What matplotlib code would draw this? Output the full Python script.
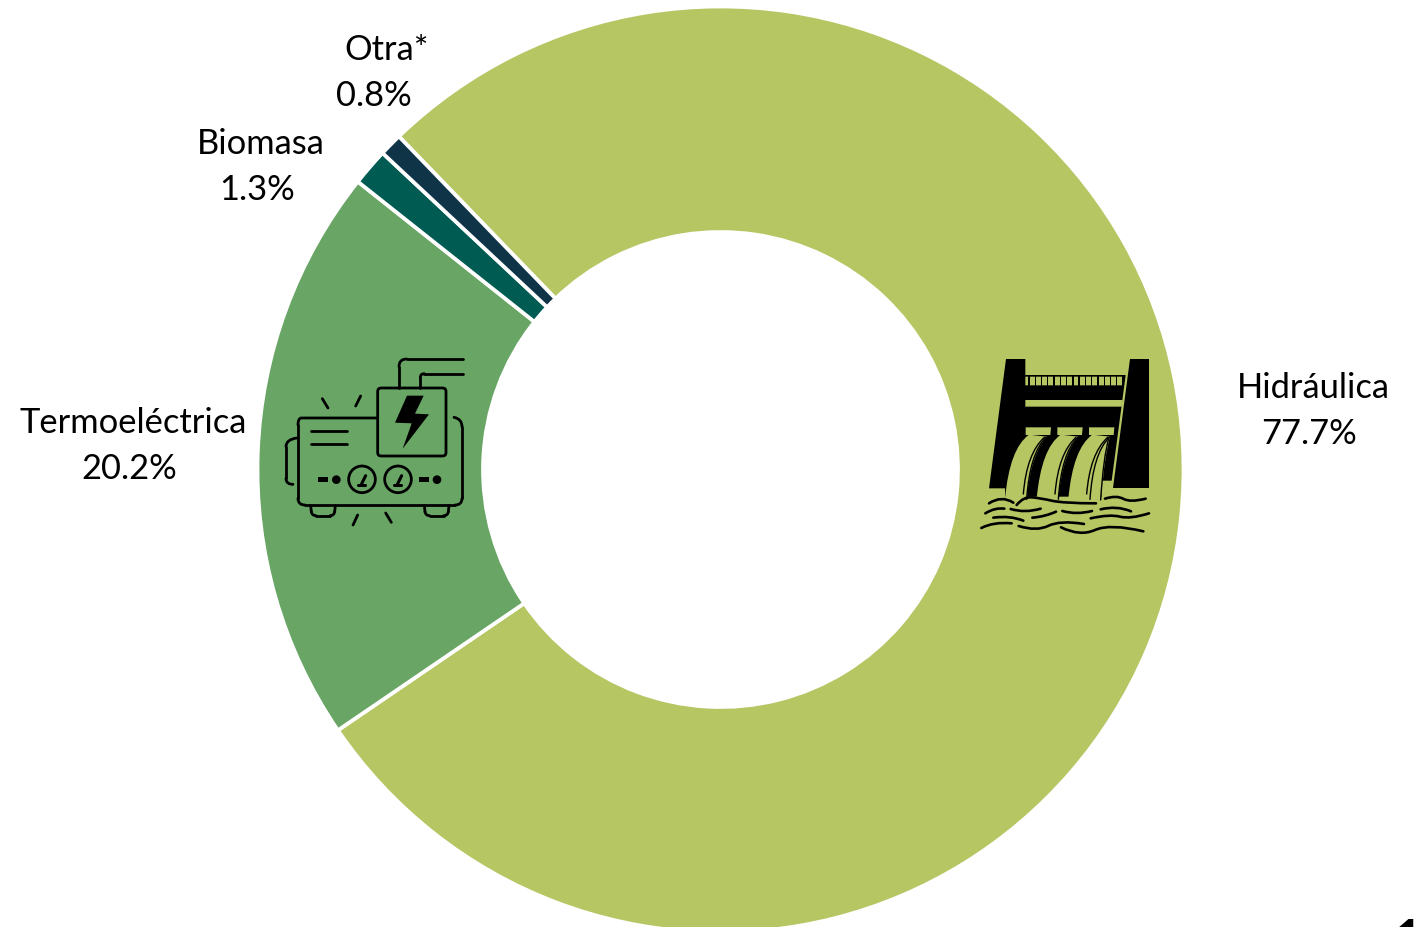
import numpy as np
import matplotlib
matplotlib.use('Agg')
import matplotlib.pyplot as plt
from matplotlib.path import Path
from matplotlib.patches import PathPatch, Polygon, FancyBboxPatch, Circle, Rectangle

categorias = ['Hidráulica', 'Termoeléctrica', 'Biomasa', 'Otra*']
valores = [77.7, 20.2, 1.3, 0.8]
colores = ['#B5C663', '#69A666', '#005B52', '#0F3447']
etiquetas = ['77.7%', '20.2%', '1.3%', '0.8%']

W, H = 1417, 927
plt.rcParams['font.family'] = ['Lato', 'DejaVu Sans']

fig = plt.figure(figsize=(W / 100, H / 100), dpi=100)
ax = fig.add_axes([0, 0, 1, 1])

# dona, el centro y radio en pixeles de la imagen
ax.pie(valores, colors=colores, startangle=134, counterclock=False,
       center=(720.5, H - 469.5), radius=463,
       wedgeprops=dict(width=225.5, edgecolor='white', linewidth=2.7))
ax.set_xlim(0, W)
ax.set_ylim(0, H)
ax.set_aspect('equal')
ax.axis('off')

# posicion de cada linea (x nombre, y nombre, x valor, y valor)
pos = [(1313, 388, 1309, 434), (133, 423, 129, 469),
       (261, 144, 257, 190), (387, 50, 374, 96)]
for nom, et, p in zip(categorias, etiquetas, pos):
    ax.text(p[0], H - p[1], nom, ha='center', va='center', fontsize=24.8, color='black')
    ax.text(p[2], H - p[3], et, ha='center', va='center', fontsize=24.8, color='black')

# numero cortado en la esquina
ax.text(1409, H - 940, '1', ha='center', va='center', fontsize=34, fontweight='bold',
        color='black', clip_on=True)


# ---- icono presa: coordenadas del recorte x3 ----
def d(x, y):
    return 970 + x / 3, H - (340 + y / 3)


def poly(pts, color):
    ax.add_patch(Polygon([d(*p) for p in pts], closed=True, fc=color, ec='none', zorder=3))


def suave(pts, f, lw, color='black', z=4):
    # curva cuadratica por puntos medios
    q = [f(*p) for p in pts]
    verts = [q[0]]
    codes = [Path.MOVETO]
    for i in range(1, len(q) - 1):
        m = ((q[i][0] + q[i + 1][0]) / 2, (q[i][1] + q[i + 1][1]) / 2)
        if i == len(q) - 2:
            m = q[-1]
        verts += [q[i], m]
        codes += [Path.CURVE3, Path.CURVE3]
    ax.add_patch(PathPatch(Path(verts, codes), fc='none', ec=color, lw=lw,
                           capstyle='round', zorder=z))


verde = colores[0]
poly([(108, 57), (166, 57), (166, 105), (467, 105), (425, 422), (395, 422), (395, 470),
      (105, 470), (105, 445), (57, 445)], 'black')
poly([(480, 57), (537, 57), (537, 445), (428, 445)], 'black')
poly([(166, 136), (166, 110), (461, 110), (459, 136)], verde)
for xb in np.arange(175, 460, 18.8):
    poly([(xb, 108), (xb + 4, 108), (xb + 4, 138), (xb, 138)], 'black')
poly([(166, 180), (458, 180), (455, 200), (166, 200)], verde)
for x0, xder in [(167, 170), (262, 265), (357, 393)]:
    poly([(x0, 262), (x0 + 76, 262), (x0 + 74, 285), (x0, 285)], verde)
    # caida de agua: borde izq. curvo y borde der. curvo
    verts = [d(x0 + 10, 284), d(x0 - 48, 325), d(x0 - 62, 476), d(xder, 480),
             d(xder + 10, 350) if xder == 393 else d(x0 + 14, 345), d(x0 + 63, 290),
             d(x0 + 10, 284)]
    codes = [Path.MOVETO, Path.CURVE3, Path.CURVE3, Path.LINETO, Path.CURVE3, Path.CURVE3,
             Path.CLOSEPOLY]
    ax.add_patch(PathPatch(Path(verts, codes), fc=verde, ec='none', zorder=3.5))
    suave([(x0 + 61, 292), (x0 + 12, 340), (x0 + 3, 478)], d, 1.0)
    suave([(x0 + 56, 292), (x0 + 3, 340), (x0 - 7, 462)], d, 1.0)
suave([(417, 292), (400, 350), (392, 480)], d, 1.0)

olas = [[(57, 490), (95, 465), (130, 488)],
        [(140, 495), (160, 470), (210, 474), (280, 490), (378, 490)],
        [(405, 476), (440, 465), (480, 488), (527, 476)],
        [(46, 520), (75, 502), (103, 506)],
        [(122, 507), (165, 520), (212, 506)],
        [(392, 508), (440, 496), (483, 514)],
        [(277, 513), (320, 525), (366, 513)],
        [(70, 533), (120, 526), (160, 542)],
        [(187, 533), (225, 530), (258, 515)],
        [(362, 535), (420, 522), (480, 538), (537, 520)],
        [(34, 564), (70, 545), (125, 550)],
        [(146, 558), (200, 575), (270, 540), (342, 552)],
        [(273, 562), (330, 590), (420, 550), (520, 574)],
        [(416, 577), (431, 577)]]
for o in olas:
    suave(o, d, 1.9, z=5)


# ---- icono generador ----
def g(x, y):
    return 275 + x / 3, H - (345 + y / 3)


GR = 2.0
negro = dict(fc='none', ec='black', lw=GR, zorder=4)


def caja(x0, y0, x1, y1, r, **kw):
    xa, ya = g(x0, y1)
    ax.add_patch(FancyBboxPatch((xa + r, ya + r), (x1 - x0) / 3 - 2 * r, (y1 - y0) / 3 - 2 * r,
                                boxstyle='round,pad=%g,rounding_size=%g' % (r, r), **kw))


def linea(pts, lw=GR):
    xs, ys = zip(*[g(*p) for p in pts])
    ax.plot(xs, ys, color='black', lw=lw, solid_capstyle='round', solid_joinstyle='round', zorder=4)


# patas en U bajo el cuerpo
for xa, xb in [(107, 181), (448, 522)]:
    linea([(xa, 482), (xa + 2, 500)])
    suave([(xa + 2, 500), (xa + 4, 512), (xa + 16, 512)], g, GR)
    linea([(xa + 16, 512), (xb - 16, 512)])
    suave([(xb - 16, 512), (xb - 4, 512), (xb - 2, 500)], g, GR)
    linea([(xb - 2, 500), (xb, 482)])
suave([(308, 219), (90, 219), (69, 219), (69, 240)], g, GR)
linea([(69, 240), (69, 460)])
suave([(69, 460), (69, 480), (90, 480)], g, GR)
linea([(90, 480), (540, 480)])
suave([(540, 480), (561, 480), (561, 460)], g, GR)
linea([(561, 460), (561, 245)])
suave([(561, 245), (561, 222), (537, 217)], g, GR)
suave([(66, 279), (33, 283), (33, 305)], g, GR)
linea([(33, 305), (33, 400)])
suave([(33, 400), (33, 418), (54, 418)], g, GR)
caja(308, 129, 513, 333, 3.5, **negro)
linea([(372, 129), (372, 65)])
suave([(372, 65), (372, 42), (395, 42)], g, GR)
linea([(395, 42), (563, 42)])
linea([(436, 129), (436, 98)])
suave([(436, 98), (436, 86), (448, 86)], g, GR)
linea([(448, 86), (563, 86)])
linea([(107, 258), (216, 258)])
linea([(107, 298), (216, 298)])
ax.add_patch(Polygon([g(*p) for p in [(396, 152), (446, 152), (420, 206), (462, 208),
                                      (383, 311), (410, 235), (360, 233)]],
                     fc='black', ec='none', zorder=4))
for cx in [261, 369]:
    ax.add_patch(Circle(g(cx, 403), 40 / 3, **negro))
    linea([(cx - 12, 419), (cx + 8, 419)], lw=2.2)
    linea([(cx - 1, 416), (cx + 11, 392)], lw=2.2)
for x0, xc in [(130, 184), (431, 486)]:
    ax.add_patch(Rectangle(g(x0, 412), 30 / 3, 16 / 3, fc='black', ec='none', zorder=4))
    ax.add_patch(Circle(g(xc, 404), 13 / 3, fc='black', ec='none', zorder=4))
for pts in [[(142, 161), (159, 189)], [(257, 153), (242, 183)],
            [(248, 510), (234, 540)], [(332, 504), (349, 532)]]:
    linea(pts)

fig.savefig('out.png', dpi=100, facecolor='white')
